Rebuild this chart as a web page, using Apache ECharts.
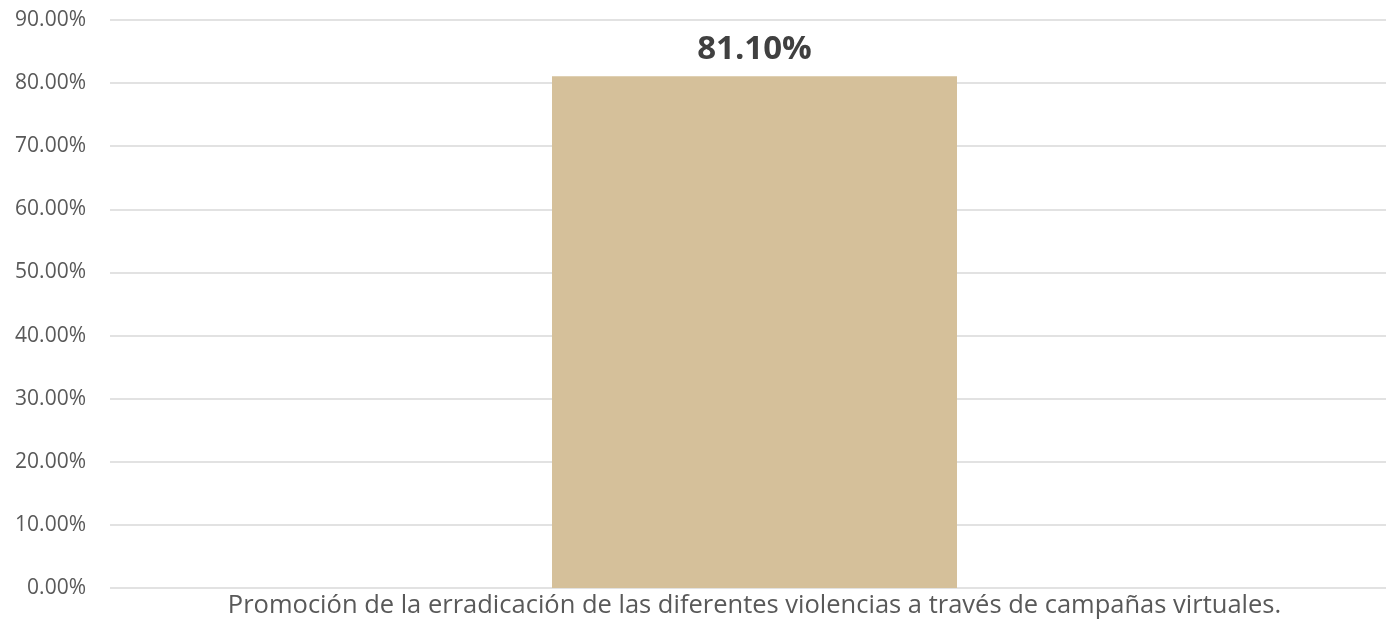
<!DOCTYPE html>
<html>
<head>
<meta charset="utf-8">
<script src="https://cdn.jsdelivr.net/npm/echarts@6/dist/echarts.min.js"></script>
<style>html,body{margin:0;padding:0;background:#fff}#c{width:1386px;height:641px}</style>
</head>
<body>
<div id="c"></div>
<script>
const categories = ['Promoción de la erradicación de las diferentes violencias a través de campañas virtuales.'];
const values = [81.1];
const yTicks = { min: 0, max: 90, interval: 10 };

const chart = echarts.init(document.getElementById('c'), null, { renderer: 'canvas' });
chart.setOption({
  animation: false,
  grid: { left: 110, top: 20, width: 1289, bottom: 53, containLabel: false, outerBoundsMode: 'none' },
  xAxis: {
    type: 'category',
    data: categories,
    axisLine: { show: false },
    axisTick: { show: false },
    axisLabel: { color: '#595959', fontSize: 25.5, fontFamily: 'Open Sans', margin: 5 }
  },
  yAxis: {
    type: 'value',
    min: yTicks.min, max: yTicks.max, interval: yTicks.interval,
    axisLine: { show: false },
    axisTick: { show: false },
    splitLine: { lineStyle: { color: '#D9D9D9', width: 1.5 } },
    axisLabel: { color: '#595959', fontSize: 21, fontFamily: 'Open Sans', margin: 24,
      formatter: v => v.toFixed(2) + '%' }
  },
  series: [{
    type: 'bar',
    data: values,
    barWidth: 405,
    itemStyle: { color: '#D5C09A' },
    label: { show: true, position: 'top', distance: 10, color: '#404040', fontSize: 33,
      fontWeight: 'bold', fontFamily: 'Open Sans', formatter: p => p.value.toFixed(2) + '%' }
  }]
});
</script>
</body>
</html>
